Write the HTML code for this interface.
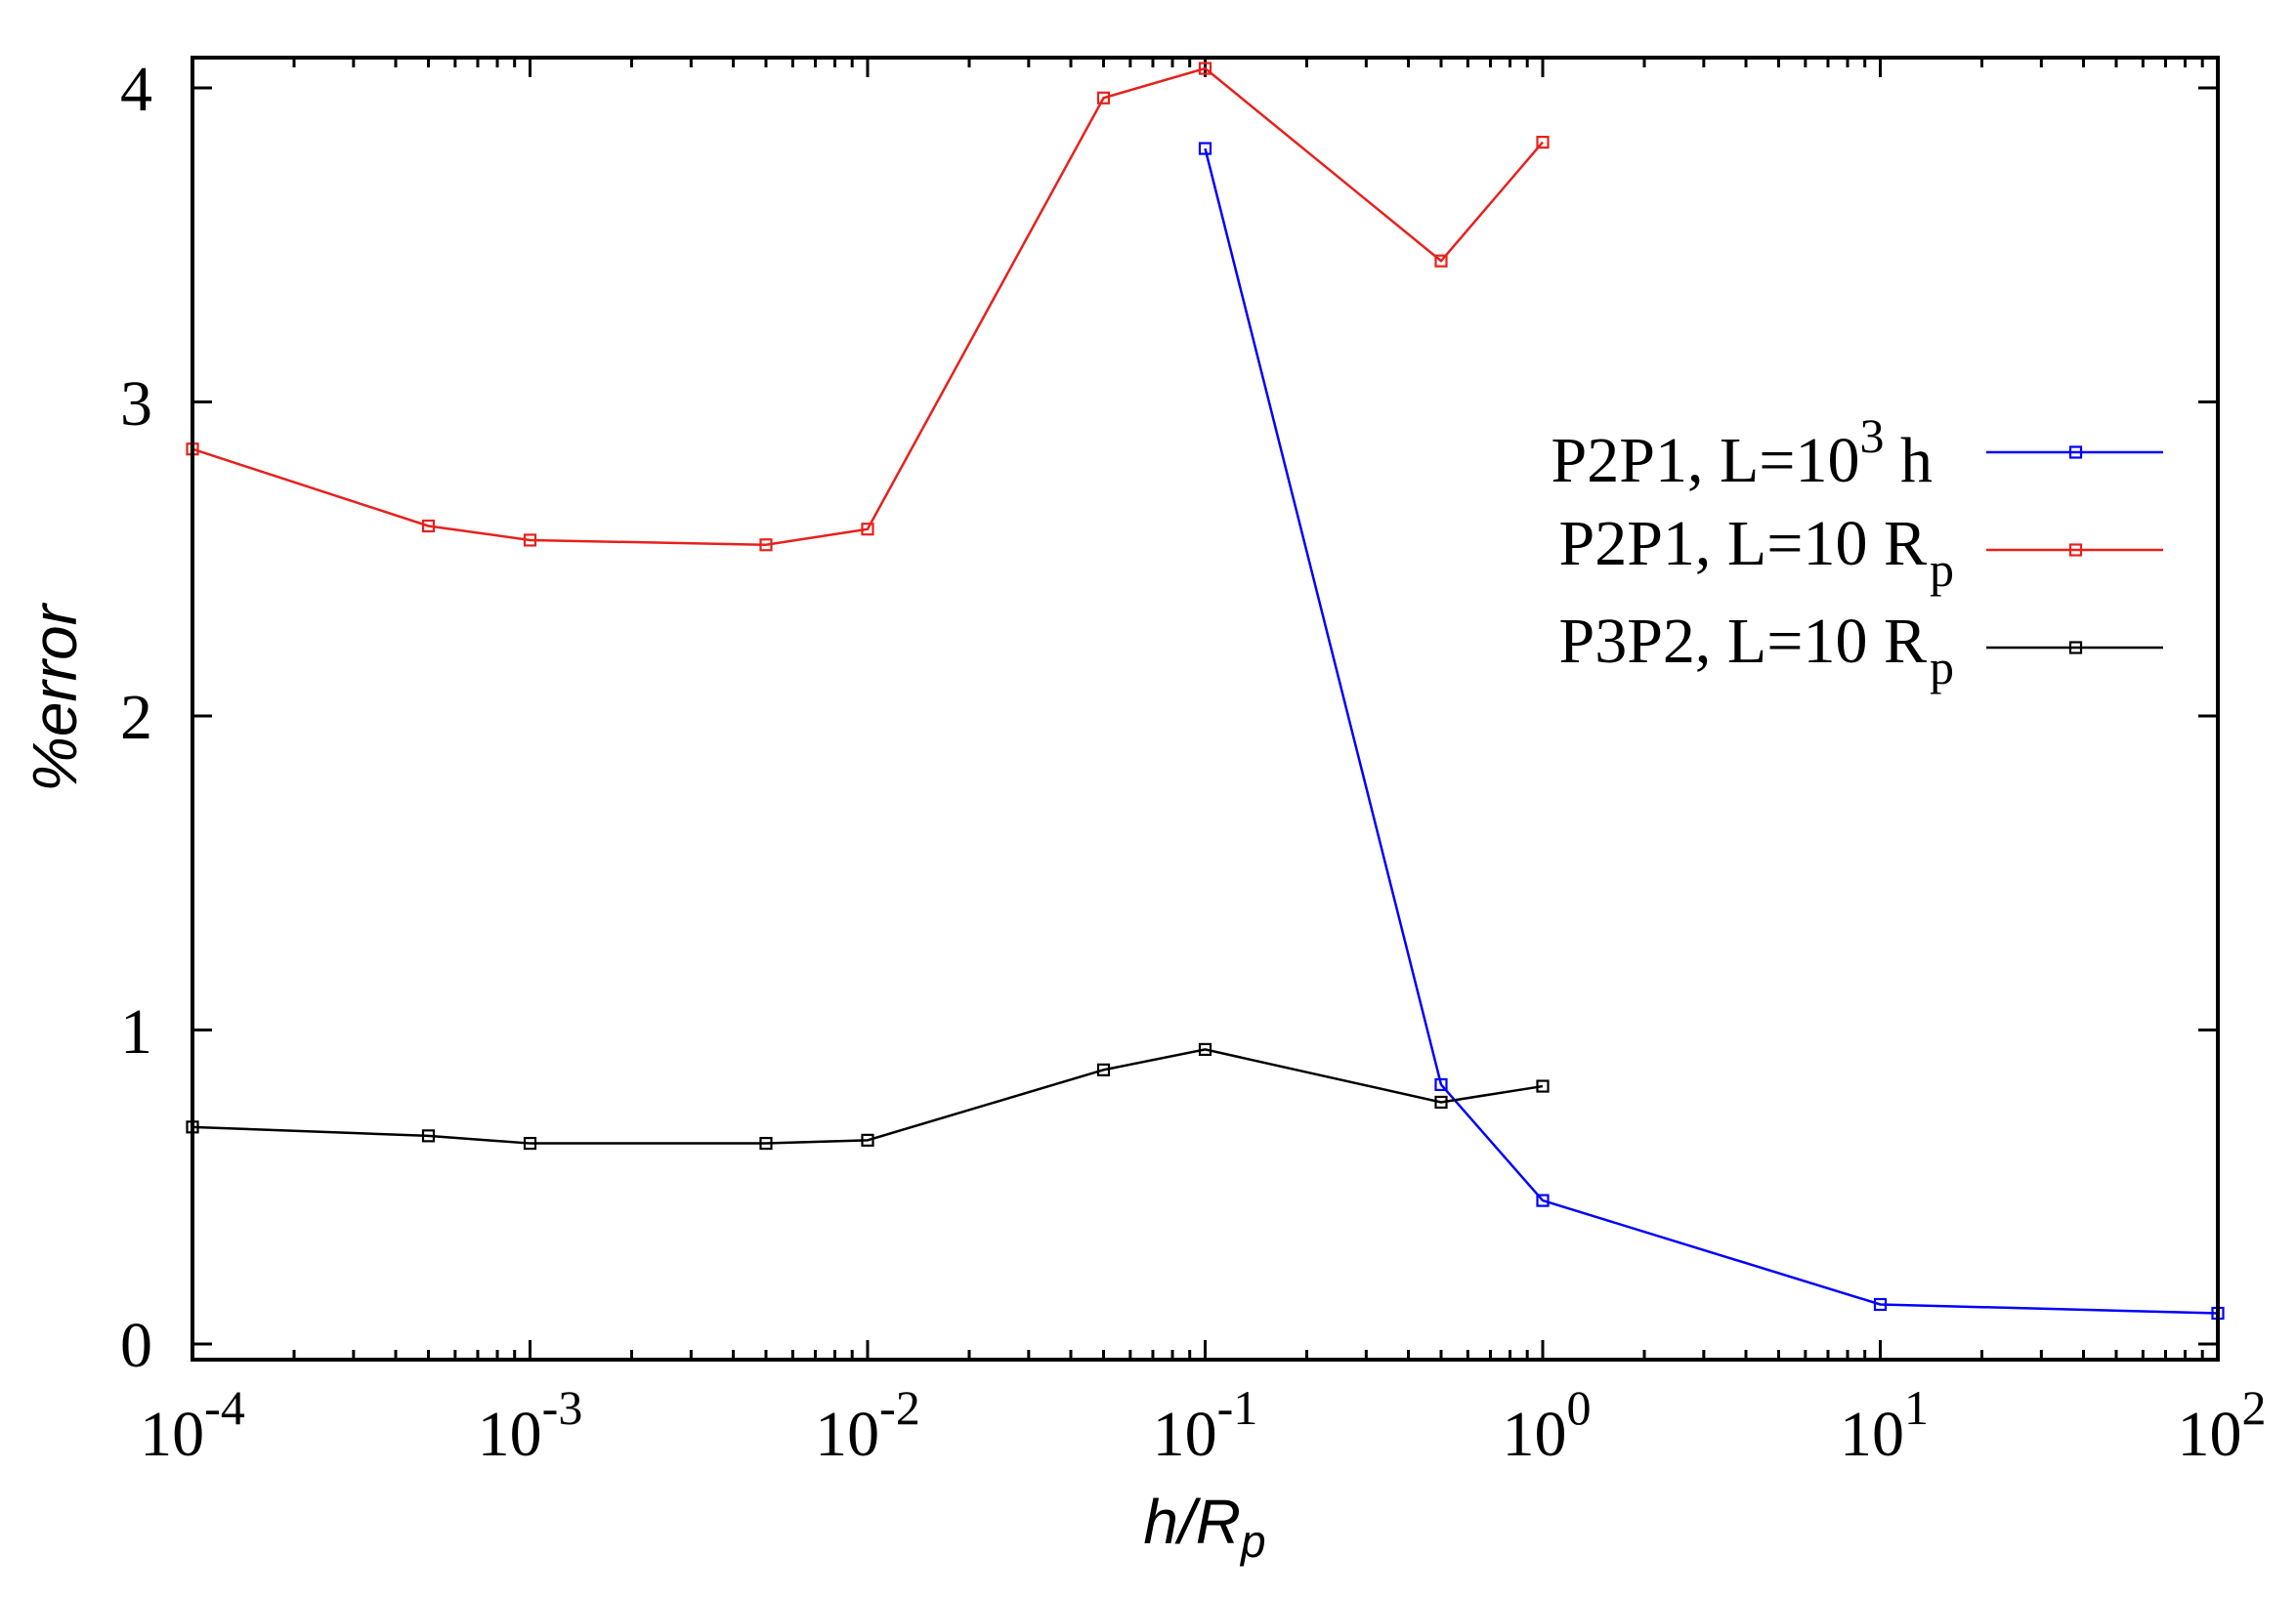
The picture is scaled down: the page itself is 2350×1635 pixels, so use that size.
<!DOCTYPE html>
<html><head><meta charset="utf-8"><style>
html,body{margin:0;padding:0;background:#fff;}
svg{display:block;}
text{font-family:"Liberation Serif",serif;fill:#000;}
</style></head><body>
<svg id="s" width="2350" height="1635" xmlns="http://www.w3.org/2000/svg">
<rect width="2350" height="1635" fill="#fff"/>
<g id="g"></g>
<rect x="197" y="59" width="2073" height="1333" fill="none" stroke="#000" stroke-width="4"/>
<text x="156" y="113" font-size="66" text-anchor="end">4</text>
<text x="156" y="435" font-size="66" text-anchor="end">3</text>
<text x="156" y="756" font-size="66" text-anchor="end">2</text>
<text x="156" y="1078" font-size="66" text-anchor="end">1</text>
<text x="156" y="1399" font-size="66" text-anchor="end">0</text>
<g font-size="66" text-anchor="middle" id="xl"></g>
<text transform="translate(78,715) rotate(-90)" font-size="64" text-anchor="middle" style="font-family:'Liberation Sans',sans-serif;font-style:italic">%error</text>
<text x="1233" y="1580" font-size="64" text-anchor="middle" style="font-family:'Liberation Sans',sans-serif;font-style:italic">h/R<tspan font-size="46" dy="14">p</tspan></text>
<text x="1978" y="493" font-size="66" text-anchor="end">P2P1, L=10<tspan font-size="50" dy="-30">3</tspan><tspan dy="30"> h</tspan></text>
<text x="1972" y="578" font-size="66" text-anchor="end">P2P1, L=10 R</text>
<text x="1975" y="600" font-size="50">p</text>
<text x="1972" y="678" font-size="66" text-anchor="end">P3P2, L=10 R</text>
<text x="1975" y="700" font-size="50">p</text>
</svg>
<script>
var g=document.getElementById('g'),NS="http://www.w3.org/2000/svg";
function X(v){return 197+(Math.log10(v)+4)*345.5;}
function Y(v){return 1376-v*321.5;}
function el(t,a){var e=document.createElementNS(NS,t);for(var k in a)e.setAttribute(k,a[k]);g.appendChild(e);return e;}
// ticks
var d="";
for(var k=-4;k<=2;k++){var x=X(Math.pow(10,k));d+="M"+x+" 1392v-20M"+x+" 59v20";
 if(k<2)for(var m=2;m<10;m++){var xm=X(m*Math.pow(10,k));d+="M"+xm+" 1392v-10M"+xm+" 59v10";}}
for(var i=0;i<=4;i++){var y=Y(i);d+="M197 "+y+"h20M2270 "+y+"h-20";}
el('path',{d:d,stroke:'#000','stroke-width':3,fill:'none'});
var xl=document.getElementById('xl');
for(var k=-4;k<=2;k++){var t=document.createElementNS(NS,'text');t.setAttribute('x',X(Math.pow(10,k))-(k<0?0:-4));t.setAttribute('y',1490);
 t.innerHTML='10<tspan font-size="50" dy="-32">'+k+'</tspan>';xl.appendChild(t);}
function series(c,pts){var p=pts.map(function(q){return X(q[0])+","+Y(q[1]);}).join(" ");
 el('polyline',{points:p,fill:'none',stroke:c,'stroke-width':2.5});
 pts.forEach(function(q){el('rect',{x:X(q[0])-5.5,y:Y(q[1])-5.5,width:11,height:11,fill:'none',stroke:c,'stroke-width':2.2});});}
series('#e8201c',[[1e-4,2.85],[5e-4,2.605],[1e-3,2.56],[5e-3,2.545],[1e-2,2.595],[5e-2,3.968],[0.1,4.062],[0.5,3.449],[1,3.827]]);
series('#0000ff',[[0.1,3.807],[0.5,0.826],[1,0.457],[10,0.126],[100,0.098]]);
series('#000000',[[1e-4,0.691],[5e-4,0.663],[1e-3,0.639],[5e-3,0.639],[1e-2,0.649],[5e-2,0.873],[0.1,0.938],[0.5,0.770],[1,0.821]]);
// legend lines
[['#0000ff',463],['#e8201c',563],['#000000',663]].forEach(function(a){
 el('line',{x1:2033,x2:2214,y1:a[1],y2:a[1],stroke:a[0],'stroke-width':2.5});
 el('rect',{x:2119,y:a[1]-5.5,width:11,height:11,fill:'none',stroke:a[0],'stroke-width':2.2});});
</script>
</body></html>
